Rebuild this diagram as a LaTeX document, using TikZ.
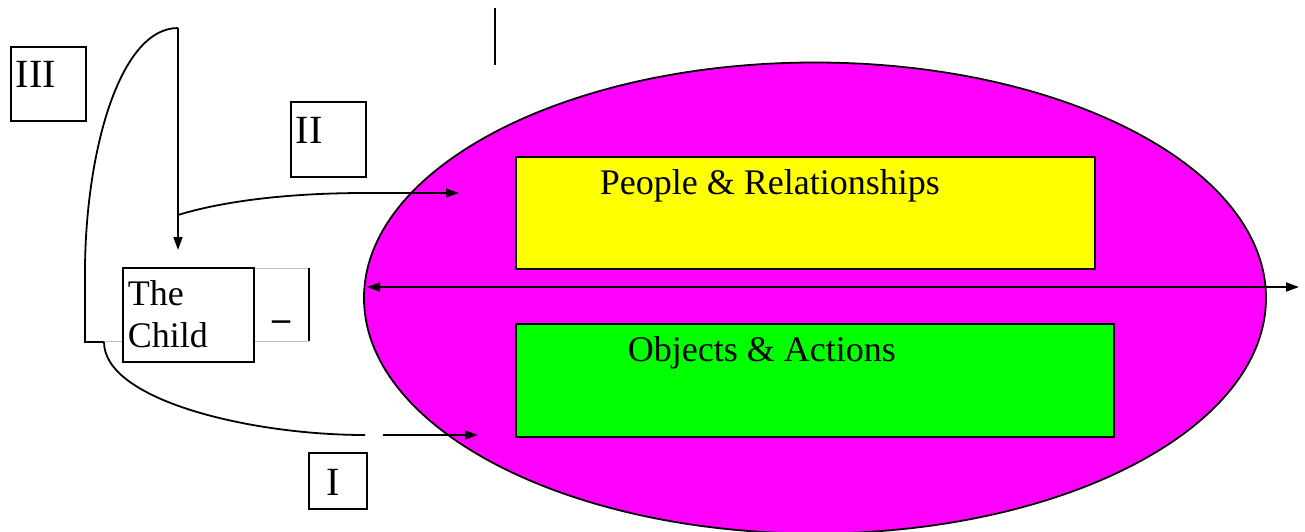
\documentclass[tikz,border=0pt]{standalone}
\usepackage{fontspec}
\setmainfont{Liberation Serif}
\usetikzlibrary{arrows.meta,shapes.geometric}
\newcommand\myfs[1]{\fontsize{#1}{#1}\selectfont}
\definecolor{mag}{RGB}{255,0,255}
\definecolor{yel}{RGB}{255,255,0}
\definecolor{grn}{RGB}{0,255,0}
\begin{document}
\begin{tikzpicture}[x=1pt,y=-1pt,line width=1.8pt,
  tip/.style={-{Triangle[length=13pt,width=9pt]}},
  dtip/.style={{Triangle[length=13pt,width=9pt]}-{Triangle[length=13pt,width=9pt]}},
  numbox/.style={draw,rectangle,inner sep=0pt,anchor=north west,fill=white},
  colbox/.style={draw,rectangle,inner sep=0pt,anchor=north west,line width=2pt},
  txt/.style={anchor=base west,inner sep=0pt,font=\myfs{36}},
  rom/.style={anchor=base west,inner sep=0pt,font=\myfs{40}},
  thin/.style={draw=black!25,line width=1pt}]
\path[use as bounding box] (0,0) rectangle (1305,531);

% ellipse and coloured boxes
\node[ellipse,draw,fill=mag,minimum width=902pt,minimum height=471pt,inner sep=0pt] (ell) at (815,298) {};
\node[colbox,fill=yel,minimum width=579pt,minimum height=112pt] (ybox) at (515,156) {};
\node[colbox,fill=grn,minimum width=598pt,minimum height=113pt] (gbox) at (515,323) {};
\node[txt] (ppl) at (599,194) {People \& Relationships};
\node[txt] (obj) at (627,361) {Objects \& Actions};

% roman numeral boxes
\node[numbox,minimum width=75pt,minimum height=74pt] (b3) at (10,46) {};
\node[rom] (t3) at (15,87) {III};
\node[numbox,minimum width=75pt,minimum height=75pt] (b2) at (290,101) {};
\node[rom] (t2) at (295,143) {II};
\node[numbox,minimum width=58pt,minimum height=56pt] (b1) at (308,452) {};
\node[rom] (t1) at (326,495) {I};

% the child
\coordinate (g1) at (253,268);
\coordinate (g2) at (309,268);
\coordinate (g3) at (309,341);
\coordinate (g4) at (104,341);
\draw[thin] (g1) -- (g2);
\draw[thin] (g4) -- (g3);
\draw (g2) -- (g3);
\node[numbox,minimum width=131pt,minimum height=94pt] (child) at (122,267) {};
\node[anchor=base west,inner sep=0pt,font=\myfs{36}] (tthe) at (127,305) {The};
\node[anchor=base west,inner sep=0pt,font=\myfs{36}] (tchild) at (127,347) {Child};
\node[anchor=base,inner sep=0pt,font=\myfs{36}\bfseries] (dash) at (281,330) {\textendash};

% connectors
\coordinate (bk0) at (85,268);
\coordinate (bkc) at (85,342);
\coordinate (bk1) at (104,342);
\coordinate (topc) at (178,28);
\coordinate (downtip) at (178,250);
\coordinate (branch) at (178,215);
\coordinate (bend) at (365,193);
\coordinate (tipII) at (459,193);
\coordinate (gapL) at (365,435);
\coordinate (gapR) at (383,435);
\coordinate (tipI) at (478,435);
\coordinate (hl) at (367,287);
\coordinate (hr) at (1299,287);
\coordinate (vt) at (495,8);
\coordinate (vb) at (495,65);

\draw (bk1) -- (bkc) -- (bk0) .. controls (86,150) and (120,28) .. (topc);
\draw[tip] (topc) -- (downtip);
\draw[tip] (branch) .. controls (230,199) and (300,193) .. (bend) -- (tipII);
\draw (bk1) .. controls (104,400) and (250,435) .. (gapL);
\draw[tip] (gapR) -- (tipI);
\draw[dtip] (hl) -- (hr);
\draw (vt) -- (vb);
\end{tikzpicture}
\end{document}
